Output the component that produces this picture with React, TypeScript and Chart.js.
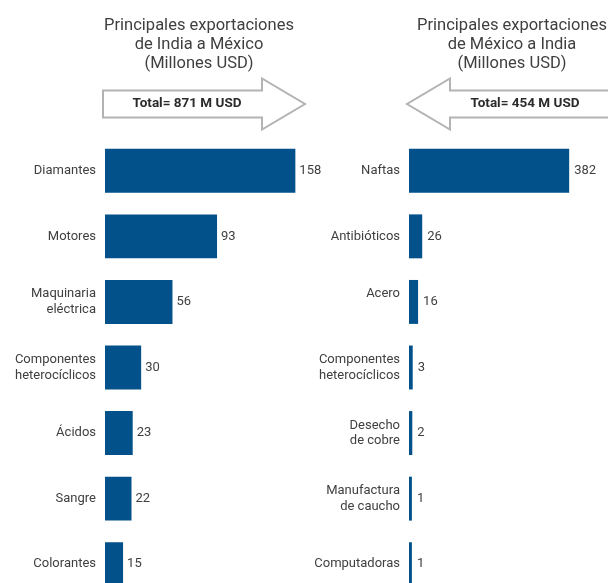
import React, { useEffect, useRef } from "react";
import { Chart, registerables } from "chart.js";

Chart.register(...registerables);

// ---- data ----
const indiaCategories: (string | string[])[] = [
  "Diamantes",
  "Motores",
  ["Maquinaria", "eléctrica"],
  ["Componentes", "heterocíclicos"],
  "Ácidos",
  "Sangre",
  "Colorantes",
];
const indiaValues = [158, 93, 56, 30, 23, 22, 15];

const mexicoCategories: (string | string[])[] = [
  "Naftas",
  "Antibióticos",
  ["Acero", ""],
  ["Componentes", "heterocíclicos"],
  ["Desecho", "de cobre"],
  ["Manufactura", "de caucho"],
  "Computadoras",
];
const mexicoValues = [382, 26, 16, 3, 2, 1, 1];

const indiaTitle = ["Principales exportaciones", "de India a México", "(Millones USD)"];
const mexicoTitle = ["Principales exportaciones", "de México a India", "(Millones USD)"];
const indiaTotal = "Total= 871 M USD";
const mexicoTotal = "Total= 454 M USD";

// ---- styles ----
const FONT = "Roboto, 'Liberation Sans', sans-serif";
const BAR_COLOR = "#02518a";
const TEXT_COLOR = "#3f3f3f";
const ARROW_STROKE = "#b3b3b3";

type Panel = {
  categories: (string | string[])[];
  values: number[];
  title: string[];
  total: string;
  left: number;
  width: number;
  axisWidth: number;
  padRight: number;
  min: number;
  max: number;
  base: number;
  titleX: number;
  arrowTail: number;
  arrowHeadBase: number;
  arrowTip: number;
  totalX: number;
  valueGap: number;
};

const panels: Panel[] = [
  {
    categories: indiaCategories,
    values: indiaValues,
    title: indiaTitle,
    total: indiaTotal,
    left: 0,
    width: 340,
    axisWidth: 105,
    padRight: 35,
    min: 0,
    max: 166,
    base: 0,
    titleX: 199,
    arrowTail: 103,
    arrowHeadBase: 262,
    arrowTip: 305,
    totalX: 187,
    valueGap: 4,
  },
  {
    categories: mexicoCategories,
    values: mexicoValues,
    title: mexicoTitle,
    total: mexicoTotal,
    left: 300,
    width: 308,
    axisWidth: 109,
    padRight: 0,
    min: -6,
    max: 476,
    base: -6,
    titleX: 212,
    arrowTail: 312,
    arrowHeadBase: 150,
    arrowTip: 107,
    totalX: 225,
    valueGap: 5,
  },
];

const CANVAS_H = 616;
const PAD_BOTTOM = 19;

function PanelChart({ p }: { p: Panel }) {
  const ref = useRef<HTMLCanvasElement | null>(null);
  useEffect(() => {
    if (!ref.current) return;
    const decor = {
      id: "decor",
      afterDraw(chart: any) {
        const ctx: CanvasRenderingContext2D = chart.ctx;
        ctx.save();
        // title
        ctx.fillStyle = TEXT_COLOR;
        ctx.font = `16.5px ${FONT}`;
        ctx.textAlign = "center";
        ctx.textBaseline = "middle";
        p.title.forEach((line, i) => ctx.fillText(line, p.titleX, 26 + i * 18.8));
        // arrow
        const cy = 104;
        const bh = 13.5;
        const hh = 25.5;
        ctx.beginPath();
        ctx.moveTo(p.arrowTail, cy - bh);
        ctx.lineTo(p.arrowHeadBase, cy - bh);
        ctx.lineTo(p.arrowHeadBase, cy - hh);
        ctx.lineTo(p.arrowTip, cy);
        ctx.lineTo(p.arrowHeadBase, cy + hh);
        ctx.lineTo(p.arrowHeadBase, cy + bh);
        ctx.lineTo(p.arrowTail, cy + bh);
        ctx.closePath();
        ctx.fillStyle = "#ffffff";
        ctx.fill();
        ctx.lineWidth = 2;
        ctx.strokeStyle = ARROW_STROKE;
        ctx.stroke();
        ctx.fillStyle = "#2b2b2b";
        ctx.font = `bold 13.5px ${FONT}`;
        ctx.fillText(p.total, p.totalX, cy);
        // value labels
        const meta = chart.getDatasetMeta(0);
        ctx.font = `13px ${FONT}`;
        ctx.fillStyle = TEXT_COLOR;
        ctx.textAlign = "left";
        meta.data.forEach((bar: any, i: number) => {
          ctx.fillText(String(p.values[i]), bar.x + p.valueGap, bar.y);
        });
        ctx.restore();
      },
    };
    const chart = new Chart(ref.current, {
      type: "bar",
      data: {
        labels: p.categories as any,
        datasets: [
          {
            data: p.values,
            backgroundColor: BAR_COLOR,
            borderWidth: 0,
            categoryPercentage: 1,
            barPercentage: 0.67,
            base: p.base,
          } as any,
        ],
      },
      options: {
        indexAxis: "y",
        responsive: false,
        animation: false,
        devicePixelRatio: 1,
        layout: { padding: { top: 138, bottom: PAD_BOTTOM, left: 0, right: p.padRight } },
        plugins: {
          legend: { display: false },
          tooltip: { enabled: false },
          title: { display: false },
        },
        scales: {
          x: { display: false, min: p.min, max: p.max },
          y: {
            grid: { display: false, drawTicks: false },
            border: { display: false },
            afterFit: (s: any) => {
              s.width = p.axisWidth;
            },
            ticks: {
              autoSkip: false,
              padding: 9,
              color: TEXT_COLOR,
              font: { family: FONT, size: 13, lineHeight: 1.2 },
            },
          },
        },
      },
      plugins: [decor],
    });
    return () => chart.destroy();
  }, [p]);
  return (
    <canvas
      ref={ref}
      width={p.width}
      height={CANVAS_H}
      style={{ position: "absolute", left: p.left, top: 0, width: p.width, height: CANVAS_H }}
    />
  );
}

export default function App() {
  return (
    <div
      style={{
        position: "absolute",
        left: 0,
        top: 0,
        width: 608,
        height: 583,
        overflow: "hidden",
        background: "#ffffff",
      }}
    >
      {panels.map((p, i) => (
        <PanelChart key={i} p={p} />
      ))}
    </div>
  );
}
